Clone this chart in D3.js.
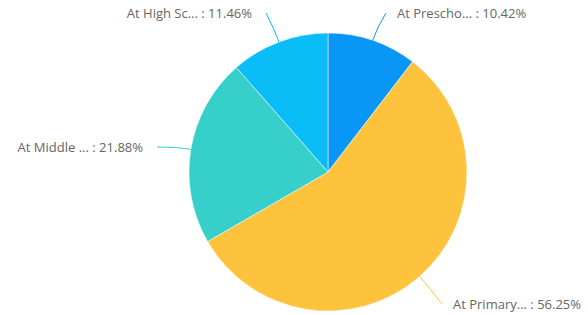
<!DOCTYPE html>
<html>
<head>
<meta charset="utf-8">
<script src="https://cdn.jsdelivr.net/npm/d3@7"></script>
<style>
  body { margin: 0; background: #fff; }
  svg { display: block; }
  .label { font-family: "Segoe UI", "Open Sans", "Noto Sans", sans-serif; font-size: 13px; fill: #666; }
</style>
</head>
<body>
<svg width="588" height="315"></svg>
<script>
// slice data, clockwise from 12 o'clock
var categories = ['At Prescho...', 'At Primary...', 'At Middle ...', 'At High Sc...'];
var counts = [10, 54, 21, 11];
var percents = ['10.42%', '56.25%', '21.88%', '11.46%'];
var colors = ['#0a96f5', '#fec33c', '#36cfc9', '#0bbdf7'];

// where each label sits (end of the leader line)
var labelAnchors = [[386, 13], [442, 304], [157, 147], [266, 13]];

var svg = d3.select('svg'),
    cx = 328,
    cy = 172,
    radius = 139;

var g = svg.append('g')
    .attr('transform', 'translate(' + cx + ',' + cy + ')');

var data = categories.map(function(c, i) {
  return { name: c, value: counts[i], pct: percents[i], color: colors[i], anchor: labelAnchors[i] };
});

var pie = d3.pie()
    .sort(null)
    .value(function(d) { return d.value; });

var arc = d3.arc()
    .innerRadius(0)
    .outerRadius(radius);

var arcs = pie(data);

g.selectAll('.slice')
  .data(arcs)
  .enter().append('path')
    .attr('class', 'slice')
    .attr('d', arc)
    .attr('fill', function(d) { return d.data.color; })
    .attr('stroke', '#fff')
    .attr('stroke-width', 0.5);

// curved leader lines
g.selectAll('.leader')
  .data(arcs)
  .enter().append('path')
    .attr('class', 'leader')
    .attr('fill', 'none')
    .attr('stroke', function(d) { return d.data.color; })
    .attr('stroke-width', 1)
    .attr('d', function(d) {
      var a = (d.startAngle + d.endAngle) / 2;
      var x0 = Math.sin(a) * radius, y0 = -Math.cos(a) * radius;
      var x1 = Math.sin(a) * (radius + 14), y1 = -Math.cos(a) * (radius + 14);
      var ex = d.data.anchor[0] - cx, ey = d.data.anchor[1] - cy;
      return 'M' + x0 + ',' + y0 + 'Q' + x1 + ',' + y1 + ' ' + ex + ',' + ey;
    });

g.selectAll('.label')
  .data(arcs)
  .enter().append('text')
    .attr('class', 'label')
    .attr('x', function(d) {
      var right = Math.sin((d.startAngle + d.endAngle) / 2) >= 0;
      return d.data.anchor[0] - cx + (right ? 11 : -14);
    })
    .attr('y', function(d) { return d.data.anchor[1] - cy + 5; })
    .attr('text-anchor', function(d) {
      return Math.sin((d.startAngle + d.endAngle) / 2) >= 0 ? 'start' : 'end';
    })
    .text(function(d) { return d.data.name + ' : ' + d.data.pct; });
</script>
</body>
</html>
